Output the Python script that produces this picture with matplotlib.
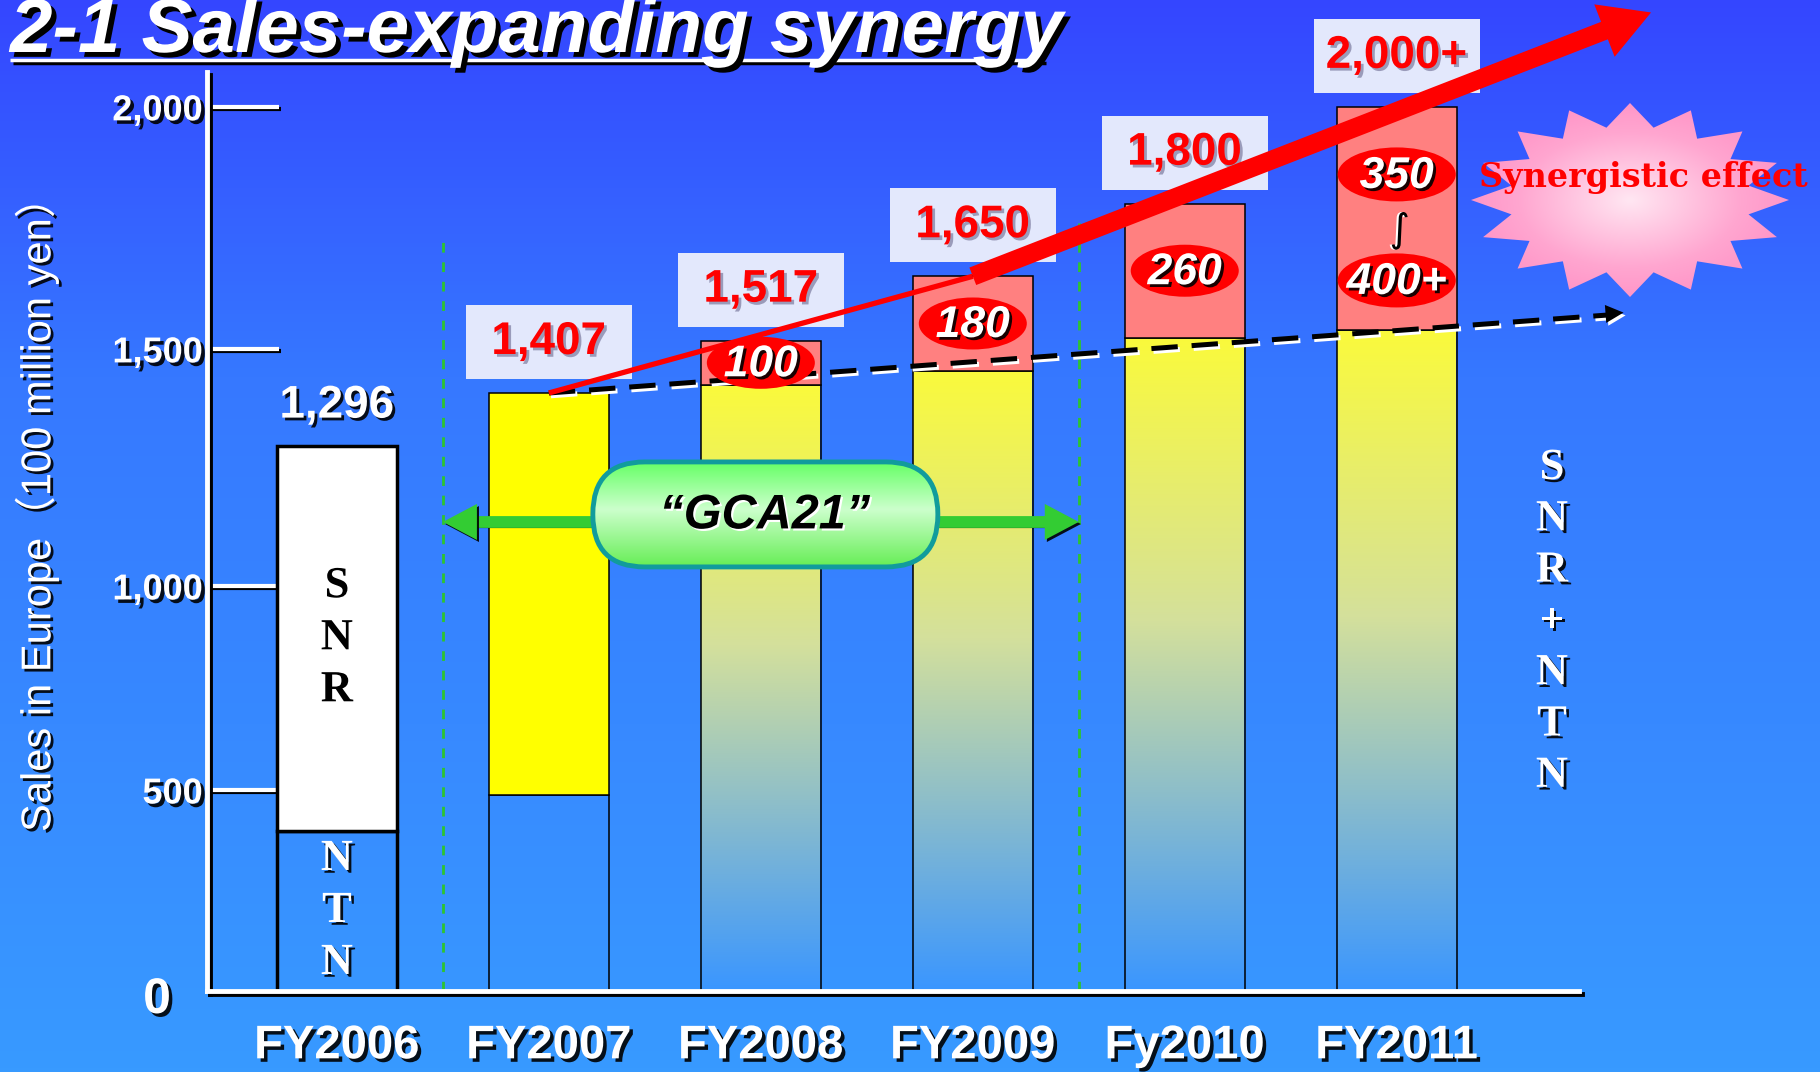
import numpy as np
import matplotlib

matplotlib.use("Agg")
import matplotlib.pyplot as plt
import matplotlib.patheffects as pe
from matplotlib.colors import LinearSegmentedColormap
from matplotlib.patches import Ellipse, Rectangle, Polygon, FancyBboxPatch, FancyArrowPatch

W, H = 1820, 1072

# chart data
YEARS = ["FY2006", "FY2007", "FY2008", "FY2009", "Fy2010", "FY2011"]
TOTALS = [1296, 1407, 1517, 1650, 1800, 2000]
TOTAL_LABELS = ["1,296", "1,407", "1,517", "1,650", "1,800", "2,000+"]
NTN_PART = [398, 488]                            # lower block, FY2006 / FY2007
BASE = [1296, 1407, 1424, 1454, 1523, 1539]      # SNR + NTN without synergy
SYNERGY_LABELS = ["100", "180", "260"]           # FY2008-Fy2010
SYNERGY_2011 = ["350", "400+"]
Y_TICKS = [0, 500, 1000, 1500, 2000]
Y_TICK_LABELS = ["0", "500", "1,000", "1,500", "2,000"]
# the slide's value axis is not evenly spaced: pixels above the axis per tick
Y_TICK_PX = [0, 201, 405, 642, 884]

GCA_LEVEL = 1135
GCA_SPAN = (0.5, 3.5)

BG_COLORS = [(0.0, "#3446FF"), (0.35, "#3678FF"), (1.0, "#389AFF")]
BAR_GRAD = [(0.0, "#3A96FF"), (0.6, "#D4E09C"), (1.0, "#FAFA3C")]
PINK = "#FF8080"
RED = "#FF0000"
GREEN = "#33CC33"

plt.rcParams["font.family"] = ["Liberation Sans", "DejaVu Sans"]
plt.rcParams["lines.scale_dashes"] = False


def fwd(v):
    v = np.asarray(v, dtype=float)
    slope = (Y_TICK_PX[-1] - Y_TICK_PX[-2]) / (Y_TICKS[-1] - Y_TICKS[-2])
    out = np.interp(v, Y_TICKS, Y_TICK_PX)
    out = np.where(v > Y_TICKS[-1], Y_TICK_PX[-1] + (v - Y_TICKS[-1]) * slope, out)
    return np.where(v < 0, v * Y_TICK_PX[1] / Y_TICKS[1], out)


def inv(h):
    h = np.asarray(h, dtype=float)
    slope = (Y_TICKS[-1] - Y_TICKS[-2]) / (Y_TICK_PX[-1] - Y_TICK_PX[-2])
    out = np.interp(h, Y_TICK_PX, Y_TICKS)
    out = np.where(h > Y_TICK_PX[-1], Y_TICKS[-1] + (h - Y_TICK_PX[-1]) * slope, out)
    return np.where(h < 0, h * Y_TICKS[1] / Y_TICK_PX[1], out)


def shadow(dx=2, dy=-2, color="black", alpha=0.9):
    return [pe.withSimplePatchShadow(offset=(dx, dy), shadow_rgbFace=color, alpha=alpha)]


def line_shadow(dx=1.5, dy=-1.5, color="black"):
    return [pe.SimpleLineShadow(offset=(dx, dy), shadow_color=color, alpha=1), pe.Normal()]


fig = plt.figure(figsize=(W / 100, H / 100), dpi=100)

# background gradient
bg = fig.add_axes([0, 0, 1, 1], zorder=0)
bg.imshow(np.linspace(0, 1, 256).reshape(-1, 1), aspect="auto", origin="upper",
          cmap=LinearSegmentedColormap.from_list("bg", BG_COLORS), extent=(0, 1, 0, 1))
bg.axis("off")

# main axes
ax = fig.add_axes([207 / W, (H - 991) / H, 1372 / W, 919 / H], zorder=1)
ax.patch.set_visible(False)
ax.set_yscale("function", functions=(fwd, inv))

x = np.arange(len(YEARS))
bw = 0.566
bar_grad = LinearSegmentedColormap.from_list("bar", BAR_GRAD)

ax.bar(x[:2], NTN_PART, bw, color="none", edgecolor="black", linewidth=[2.5, 1.1], zorder=2)
ax.bar(x[0], BASE[0] - NTN_PART[0], bw, bottom=NTN_PART[0], color="white",
       edgecolor="black", linewidth=2.5, zorder=2)
ax.bar(x[1], BASE[1] - NTN_PART[1], bw, bottom=NTN_PART[1], color="#FFFF00",
       edgecolor="black", linewidth=1.1, zorder=2)
grad_bars = ax.bar(x[2:], BASE[2:], bw, color="none", edgecolor="black", linewidth=1.1, zorder=2)
for rect, xi, b in zip(grad_bars, x[2:], BASE[2:]):
    im = ax.imshow(np.linspace(0, 1, 256).reshape(-1, 1), cmap=bar_grad, origin="lower",
                   aspect="auto", extent=(xi - bw / 2, xi + bw / 2, 0, b), zorder=1.9)
    im.set_clip_path(rect)
synergy = np.array(TOTALS[2:]) - np.array(BASE[2:])
ax.bar(x[2:], synergy, bw, bottom=BASE[2:], color=PINK, edgecolor="black", linewidth=1.1, zorder=2)

# GCA21 period markers
ax.plot([GCA_SPAN[0]] * 2, [0, 1728], color="#2EC42E", lw=2, dashes=(7, 7), zorder=1.5)
ax.plot([GCA_SPAN[1]] * 2, [0, 1766], color="#2EC42E", lw=2, dashes=(7, 7), zorder=1.5)

ax.set_xlim(-0.613, 5.86)
ax.set_ylim(0, 2072)

ax.set_yticks(Y_TICKS[1:], Y_TICK_LABELS[1:], fontsize=26, fontweight="bold", color="white")
ax.tick_params(axis="y", direction="in", length=52, width=3, color="white", pad=3)
ax.set_xticks(x, YEARS, fontsize=34, fontweight="bold", color="white")
ax.tick_params(axis="x", length=0, pad=24)
for lab in ax.get_xticklabels() + ax.get_yticklabels():
    lab.set_path_effects(shadow(2.5, -2.5))
for tick in ax.yaxis.get_major_ticks():
    tick.tick1line.set_path_effects(line_shadow())
for side in ("top", "right"):
    ax.spines[side].set_visible(False)
for side in ("left", "bottom"):
    ax.spines[side].set_color("white")
    ax.spines[side].set_linewidth(3.5)
    ax.spines[side].set_path_effects(line_shadow(2, -2))

# overlay in pixel coordinates (origin top-left)
ov = fig.add_axes([0, 0, 1, 1], zorder=3)
ov.set_xlim(0, W)
ov.set_ylim(H, 0)
ov.axis("off")


def to_px(xv, yv):
    dx, dy = ax.transData.transform((xv, yv))
    return dx, H - dy


x0, y0 = to_px(ax.get_xlim()[0], 0)
ov.text(x0 - 50, y0 + 9, Y_TICK_LABELS[0], fontsize=36, fontweight="bold", color="white",
        ha="center", va="center", path_effects=shadow(2.5, -2.5))

# title
ov.text(10, 52, "2-1 Sales-expanding synergy", fontsize=55, fontweight="bold",
        fontstyle="italic", color="white", ha="left", va="baseline",
        path_effects=shadow(3.5, -3.5, alpha=1))
ov.plot([10, 1043], [60, 60], color="white", lw=2.5, solid_capstyle="butt",
        path_effects=line_shadow(2, -2))

ov.text(37, 505, "Sales in Europe（100 million yen）", rotation=90, fontsize=30,
        color="white", ha="center", va="center",
        family=["Liberation Sans", "Noto Sans CJK JP"], path_effects=shadow(2, -2))

# letters inside the FY2006 bar
cx06, top06 = to_px(0, BASE[0])
_, mid06 = to_px(0, NTN_PART[0])
_, bot06 = to_px(0, 0)
snr_mid = (top06 + mid06) / 2
ntn_mid = (mid06 + bot06) / 2
for i, ch in enumerate("SNR"):
    ov.text(cx06, snr_mid + (i - 1) * 52, ch, fontsize=32, fontweight="bold",
            family="Liberation Serif", color="black", ha="center", va="center",
            path_effects=shadow(2, -2, color="white", alpha=1))
for i, ch in enumerate("NTN"):
    ov.text(cx06, ntn_mid + (i - 1) * 52, ch, fontsize=32, fontweight="bold",
            family="Liberation Serif", color="white", ha="center", va="center",
            path_effects=shadow(2, -2))

# right side legend text
for i, ch in enumerate("SNR+NTN"):
    ov.text(1552, 468 + i * 51.3, ch, fontsize=32, fontweight="bold",
            family="Liberation Serif", color="white", ha="center", va="center",
            path_effects=shadow(2, -2))

# total labels
ov.text(cx06, top06 - 40, TOTAL_LABELS[0], fontsize=33, fontweight="bold", color="white",
        ha="center", va="center", path_effects=shadow(2, -2))
for i in range(1, len(YEARS)):
    bx, by = to_px(x[i], TOTALS[i])
    ov.add_patch(Rectangle((bx - 83, by - 14 - 74), 166, 74, facecolor="#E3E8FC",
                           edgecolor="none", zorder=2))
    ov.text(bx, by - 14 - 37, TOTAL_LABELS[i], fontsize=33, fontweight="bold", color=RED,
            ha="center", va="center", zorder=3,
            path_effects=shadow(2, -2, color="#8888AA", alpha=0.8))

# green GCA21 period arrow
gl, gy = to_px(GCA_SPAN[0], GCA_LEVEL)
gr, _ = to_px(GCA_SPAN[1], GCA_LEVEL)
ov.plot([gl + 30, gr - 30], [gy + 4, gy + 4], color="black", lw=3, zorder=4)
ov.plot([gl + 30, gr - 30], [gy, gy], color=GREEN, lw=8.5, solid_capstyle="butt", zorder=4)
for tip, base in ((gl, gl + 34), (gr, gr - 34)):
    ov.add_patch(Polygon([[tip, gy], [base, gy - 18], [base, gy + 18]], closed=True,
                         facecolor=GREEN, edgecolor="none", zorder=4,
                         path_effects=shadow(1.5, -1.5)))

# GCA21 pill
pcx, pcy = (gl + gr) / 2 + 4, gy - 8
pill_kw = dict(boxstyle="round,pad=0,rounding_size=52", zorder=5)
pill = FancyBboxPatch((pcx - 172, pcy - 52), 345, 105, facecolor="none", edgecolor="none", **pill_kw)
ov.add_patch(pill)
pim = ov.imshow(np.linspace(0, 1, 256).reshape(-1, 1), aspect="auto", origin="upper",
                cmap=LinearSegmentedColormap.from_list(
                    "pill", [(0, "#66FF66"), (0.45, "#CCFFCC"), (1, "#66EE55")]),
                extent=(pcx - 172, pcx + 173, pcy + 53, pcy - 52), zorder=5)
pim.set_clip_path(pill)
ov.add_patch(FancyBboxPatch((pcx - 172, pcy - 52), 345, 105, facecolor="none",
                            edgecolor="#119C9C", linewidth=3.5, **{**pill_kw, "zorder": 6}))
ov.text(pcx, pcy + 2, "“GCA21”", fontsize=35, fontweight="bold", fontstyle="italic",
        color="black", ha="center", va="center", zorder=7,
        path_effects=shadow(1.5, -1.5, color="white", alpha=1))

# dashed trend of base sales
dsx, dsy = to_px(x[1], BASE[1])
dex, dey = to_px(6.07, 1575)
ov.plot([dsx, dex - 10], [dsy, dey + 2], color="black", lw=3.6, dashes=(19, 10), zorder=8,
        path_effects=line_shadow(1.5, -2, "white"))
ang = np.arctan2(dey - dsy, dex - dsx)
ux, uy = np.cos(ang), np.sin(ang)
ov.add_patch(Polygon([[dex, dey], [dex - 18 * ux - 9 * uy, dey - 18 * uy + 9 * ux],
                      [dex - 18 * ux + 9 * uy, dey - 18 * uy - 9 * ux]], closed=True,
                     facecolor="black", edgecolor="none", zorder=8,
                     path_effects=shadow(1.5, -2, color="white", alpha=1)))

# red synergy arrow
r0 = to_px(x[1], TOTALS[1])
r1 = to_px(x[3], TOTALS[3])
r2 = to_px(6.2, 2195)
ov.plot([r0[0], r1[0]], [r0[1], r1[1]], color=RED, lw=3.8, solid_capstyle="butt", zorder=9)
ov.add_patch(FancyArrowPatch(r1, r2, arrowstyle="simple,tail_width=0.45,head_width=1.35,head_length=1.2",
                             mutation_scale=30, color=RED, linewidth=0, zorder=9,
                             shrinkA=0, shrinkB=0))

# synergy ellipses
for i, lab in zip(x[2:5], SYNERGY_LABELS):
    ex, ytop = to_px(i, TOTALS[i])
    _, ybot = to_px(i, BASE[i])
    ey = (ytop + ybot) / 2
    ov.add_patch(Ellipse((ex, ey), 108, 52, facecolor=RED, edgecolor="none", zorder=10))
    ov.text(ex, ey + 2, lab, fontsize=32, fontweight="bold", fontstyle="italic", color="white",
            ha="center", va="center", zorder=11, path_effects=shadow(2, -2))
ex, ytop = to_px(x[5], TOTALS[5])
_, ybot = to_px(x[5], BASE[5])
emid = (ytop + ybot) / 2
for lab, dy in zip(SYNERGY_2011, (-44, 62)):
    ov.add_patch(Ellipse((ex, emid + dy), 118, 54, facecolor=RED, edgecolor="none", zorder=10))
    ov.text(ex, emid + dy + 2, lab, fontsize=32, fontweight="bold", fontstyle="italic",
            color="white", ha="center", va="center", zorder=11, path_effects=shadow(2, -2))
ov.text(ex + 3, emid + 12, "∫", fontsize=28, family="DejaVu Sans", color="black",
        ha="center", va="center", zorder=11, path_effects=shadow(-1.5, 0, color="white", alpha=1))

# synergistic effect starburst
scx, scy, srx, sry, npts = 1630, 200, 159, 97, 16
angles = np.pi / 2 + np.arange(2 * npts) * np.pi / npts
radii = np.where(np.arange(2 * npts) % 2 == 0, 1.0, 0.76)
star = Polygon(np.column_stack([scx + srx * radii * np.cos(angles), scy - sry * radii * np.sin(angles)]),
               closed=True, facecolor="none", edgecolor="none", zorder=2)
ov.add_patch(star)
gx, gy2 = np.meshgrid(np.linspace(-1, 1, 200), np.linspace(-1, 1, 200))
rr = np.clip(np.hypot(gx, gy2), 0, 1)
sim = ov.imshow(rr, cmap=LinearSegmentedColormap.from_list(
    "star", [(0, "#FFE6F2"), (0.7, "#FFA6D0"), (1, "#FF96C8")]),
    extent=(scx - srx, scx + srx, scy + sry, scy - sry), aspect="auto", zorder=2)
sim.set_clip_path(star)
ov.text(1643, 187, "Synergistic effect", fontsize=24, fontweight="bold", family="DejaVu Serif",
        color=RED, ha="center", va="baseline", zorder=3)

fig.savefig("out.png", dpi=100)
